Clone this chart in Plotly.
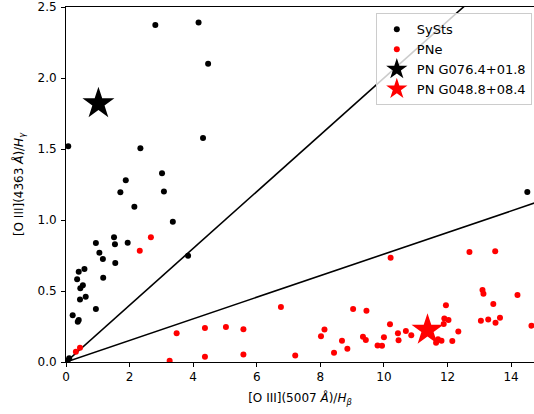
import plotly.graph_objects as go

# SySts (black dots)
sysx = [0.07, 2.34, 3.02, 1.88, 3.08, 1.71, 2.15, 3.36, 0.94, 1.51, 1.54, 1.94, 1.05, 1.16,
        1.55, 3.84, 0.58, 0.40, 0.35, 1.17, 0.53, 0.45, 0.62, 0.44, 0.94, 0.21, 0.40, 0.37,
        0.10, 0.05, 2.81, 4.17, 4.47, 4.31, 14.51]
sysy = [1.52, 1.505, 1.33, 1.28, 1.20, 1.195, 1.094, 0.988, 0.838, 0.878, 0.829, 0.84, 0.77, 0.725,
        0.697, 0.749, 0.655, 0.636, 0.582, 0.594, 0.54, 0.52, 0.46, 0.44, 0.373, 0.33, 0.296, 0.284,
        0.026, 0.01, 2.373, 2.39, 2.10, 1.577, 1.197]

# PNe (red dots)
pnx = [2.67, 2.32, 3.48, 3.26, 0.31, 0.44, 4.37, 4.37, 5.03,
       5.58, 5.58, 6.76, 7.21, 8.02, 8.13, 8.43, 8.68, 8.85, 9.03, 9.34, 9.43, 9.45, 9.80, 9.94,
       10.0, 10.21, 10.19, 10.44, 10.46, 10.69, 10.86, 11.64, 11.70, 11.81, 11.88, 11.90, 11.95,
       12.03, 12.15, 12.34, 12.69, 13.05, 13.10, 13.13, 13.28, 13.44, 13.50, 13.51, 13.65, 14.20, 14.64]
pny = [0.878, 0.784, 0.202, 0.009, 0.073, 0.10, 0.24, 0.037, 0.246,
       0.23, 0.052, 0.387, 0.045, 0.181, 0.228, 0.066, 0.15, 0.094, 0.373, 0.178, 0.155, 0.361, 0.117, 0.115,
       0.174, 0.735, 0.265, 0.202, 0.153, 0.218, 0.188, 0.136, 0.16, 0.15, 0.268, 0.307, 0.40,
       0.296, 0.148, 0.214, 0.775, 0.291, 0.507, 0.481, 0.30, 0.408, 0.78, 0.277, 0.312, 0.472, 0.256]

star1 = (1.02, 1.82)   # PN G076.4+01.8
star2 = (11.37, 0.225) # PN G048.8+08.4

line_x = [0, 16]
slope_upper = 0.2
slope_lower = 0.076

fig = go.Figure()
fig.add_trace(go.Scatter(x=line_x, y=[slope_upper * v for v in line_x], mode="lines",
                         line=dict(color="black", width=1.6), showlegend=False, hoverinfo="skip"))
fig.add_trace(go.Scatter(x=line_x, y=[slope_lower * v for v in line_x], mode="lines",
                         line=dict(color="black", width=1.6), showlegend=False, hoverinfo="skip"))
fig.add_trace(go.Scatter(x=sysx, y=sysy, mode="markers", name="SySts",
                         marker=dict(color="black", size=6)))
fig.add_trace(go.Scatter(x=pnx, y=pny, mode="markers", name="PNe",
                         marker=dict(color="red", size=6)))
fig.add_trace(go.Scatter(x=[star1[0]], y=[star1[1]], mode="markers", name="PN G076.4+01.8",
                         marker=dict(color="black", size=24, symbol="star")))
fig.add_trace(go.Scatter(x=[star2[0]], y=[star2[1]], mode="markers", name="PN G048.8+08.4",
                         marker=dict(color="red", size=24, symbol="star")))

axis_common = dict(showline=True, linecolor="black", linewidth=1, mirror=True, automargin=False,
                   ticks="outside", ticklen=4, tickcolor="black", showgrid=False, zeroline=False,
                   tickfont=dict(family="DejaVu Sans", size=12, color="black"))

fig.update_layout(
    width=534, height=414,
    margin=dict(l=66, r=0, t=7, b=52, autoexpand=False),
    plot_bgcolor="white", paper_bgcolor="white",
    font=dict(family="DejaVu Sans", size=12, color="black"),
    xaxis=dict(range=[0, 14.72], dtick=2, tick0=0,
               title=dict(text="[O III](5007 <i>Å</i>)/<i>H</i><sub><i>β</i></sub>", standoff=10,
                          font=dict(size=12)),
               **axis_common),
    yaxis=dict(range=[0, 2.5], dtick=0.5, tick0=0, tickformat=".1f", ticklabelstandoff=2,
               title=dict(text="[O III](4363 <i>Å</i>)/<i>H</i><sub><i>γ</i></sub>", standoff=11,
                          font=dict(size=12)),
               **axis_common),
    legend=dict(x=0.662, y=0.982, xanchor="left", yanchor="top",
                bgcolor="rgba(255,255,255,0.8)", bordercolor="#cccccc", borderwidth=1,
                font=dict(family="DejaVu Sans", size=13), tracegroupgap=0),
)

fig.write_html(
    "out.html",
    config={"displayModeBar": False},
    post_script="document.body.style.margin='0';document.body.style.overflow='hidden';",
)
